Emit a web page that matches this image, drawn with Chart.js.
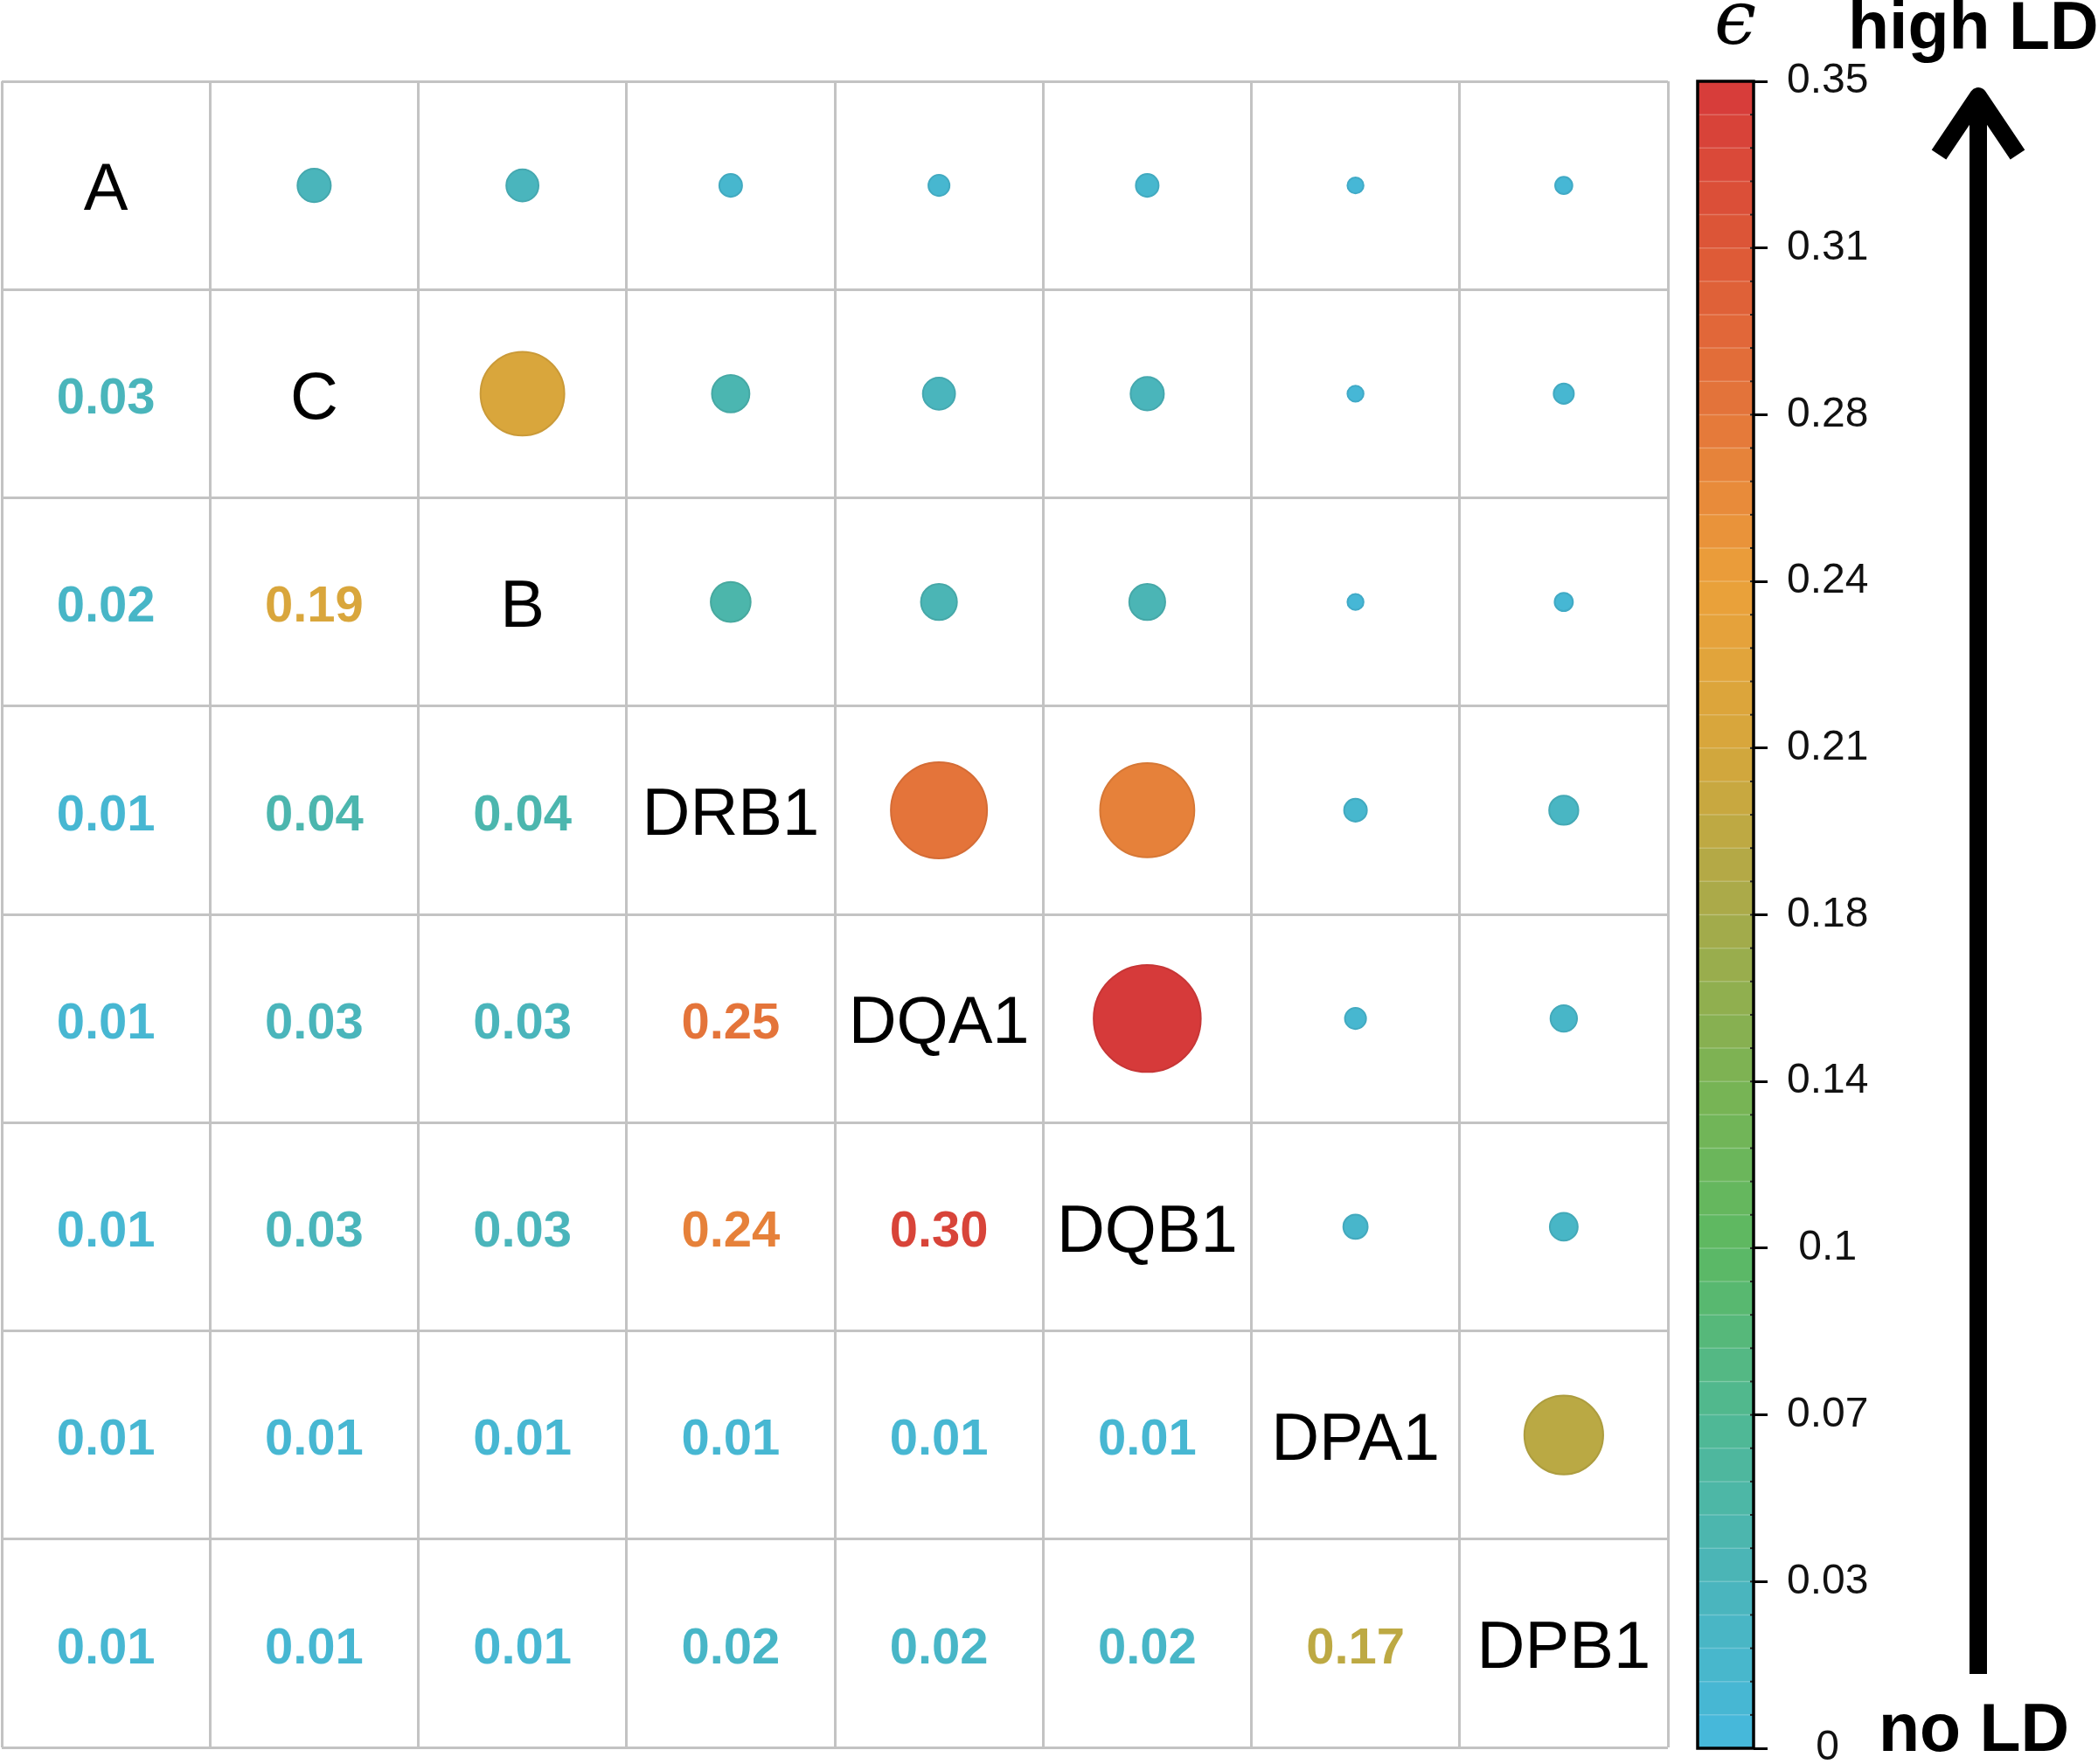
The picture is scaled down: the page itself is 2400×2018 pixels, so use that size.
<!DOCTYPE html>
<html><head><meta charset="utf-8">
<script src="https://cdn.jsdelivr.net/npm/chart.js@4.4.1/dist/chart.umd.min.js"></script>
<style>
html,body{margin:0;padding:0;background:#fff;}
body{width:2400px;height:2018px;position:relative;overflow:hidden;}
#matrix{position:absolute;left:0;top:0;}
#cbar{position:absolute;left:1925px;top:0;}
</style></head><body>
<canvas id="matrix" width="1925" height="2018"></canvas>
<canvas id="cbar" width="475" height="2018"></canvas>
<script>
// ---- data ----
const genes = ['A', 'C', 'B', 'DRB1', 'DQA1', 'DQB1', 'DPA1', 'DPB1'];
// printed epsilon values, lower triangle (row i, columns 0..i-1)
const ldLower = [
  [],
  [0.03],
  [0.02, 0.19],
  [0.01, 0.04, 0.04],
  [0.01, 0.03, 0.03, 0.25],
  [0.01, 0.03, 0.03, 0.24, 0.30],
  [0.01, 0.01, 0.01, 0.01, 0.01, 0.01],
  [0.01, 0.01, 0.01, 0.02, 0.02, 0.02, 0.17]
];
const ldUpper = [
  [0.030, 0.028, 0.014, 0.012, 0.014, 0.007, 0.008],
  [0.19, 0.038, 0.028, 0.030, 0.007, 0.011],
  [0.043, 0.035, 0.035, 0.007, 0.009],
  [0.25, 0.24, 0.014, 0.023],
  [0.31, 0.012, 0.019],
  [0.016, 0.021],
  [0.168],
  []
];
const cbTickValues = [0, 0.035, 0.07, 0.105, 0.14, 0.175, 0.21, 0.245, 0.28, 0.315, 0.35];
const cbTickLabels = ['0', '0.03', '0.07', '0.1', '0.14', '0.18', '0.21', '0.24', '0.28', '0.31', '0.35'];
const cbMin = 0, cbMax = 0.35, cbBands = 50;
const colorMax = 0.31;

// ---- colour map ----
const cmapStops = [
  [0.0, 69, 184, 222], [0.1, 74, 181, 186], [0.2, 80, 184, 146], [0.3, 92, 184, 98],
  [0.4, 122, 179, 84], [0.5, 166, 170, 74], [0.6, 214, 167, 60], [0.7, 235, 160, 58],
  [0.8, 228, 118, 58], [0.9, 221, 88, 55], [1.0, 214, 58, 58]
];
function cmapRGB(t) {
  t = Math.max(0, Math.min(1, t));
  for (let k = 1; k < cmapStops.length; k++) {
    const a = cmapStops[k - 1], b = cmapStops[k];
    if (t <= b[0]) {
      const f = (t - a[0]) / (b[0] - a[0]);
      return [1, 2, 3].map(c => Math.round(a[c] + (b[c] - a[c]) * f));
    }
  }
  return cmapStops[cmapStops.length - 1].slice(1);
}
const rgb = c => `rgb(${c[0]},${c[1]},${c[2]})`;
const colorFor = v => rgb(cmapRGB(v / colorMax));
const edgeFor = v => rgb(cmapRGB(v / colorMax).map(c => Math.round(c * 0.93)));

// ---- matrix chart ----
const dotPoints = [];
ldUpper.forEach((row, i) => row.forEach((v, k) => {
  dotPoints.push({ x: i + 1 + k + 0.5, y: i + 0.5, v: v });
}));

const FONT = '"Liberation Sans", Arial, Helvetica, sans-serif';
const NAME_PX = 76, NUM_PX = 58;
const cellText = {
  id: 'cellText',
  afterDatasetsDraw(chart) {
    const { ctx, scales: { x, y } } = chart;
    ctx.save();
    ctx.textAlign = 'center';
    ctx.textBaseline = 'alphabetic';
    ctx.font = NAME_PX + 'px ' + FONT;
    ctx.fillStyle = '#000';
    genes.forEach((g, i) => ctx.fillText(g, x.getPixelForValue(i + 0.5), y.getPixelForValue(i + 0.5) + 0.358 * NAME_PX + 1));
    ctx.font = 'bold ' + NUM_PX + 'px ' + FONT;
    ldLower.forEach((row, i) => row.forEach((v, j) => {
      ctx.fillStyle = colorFor(v);
      ctx.fillText(v.toFixed(2), x.getPixelForValue(j + 0.5), y.getPixelForValue(i + 0.5) + 0.358 * NUM_PX + 2);
    }));
    ctx.restore();
  }
};

const gridOpts = { color: '#c3c3c3', lineWidth: 3, drawTicks: false };
new Chart(document.getElementById('matrix'), {
  type: 'scatter',
  data: {
    datasets: [{
      data: dotPoints,
      pointRadius: c => c.raw ? 110 * Math.sqrt(c.raw.v) : 0,
      pointHoverRadius: c => c.raw ? 110 * Math.sqrt(c.raw.v) : 0,
      pointBackgroundColor: c => c.raw ? colorFor(c.raw.v) : '#000',
      pointBorderColor: c => c.raw ? edgeFor(c.raw.v) : '#000',
      pointBorderWidth: 2
    }]
  },
  options: {
    responsive: false, animation: false, devicePixelRatio: 1, events: [],
    layout: { autoPadding: false, padding: { left: 2, top: 93, right: 17, bottom: 19 } },
    plugins: { legend: { display: false }, tooltip: { enabled: false } },
    scales: {
      x: { type: 'linear', min: 0, max: 8, ticks: { display: false, stepSize: 1 }, grid: gridOpts,
           border: { display: false }, afterFit: s => { s.height = 0; } },
      y: { type: 'linear', min: 0, max: 8, reverse: true, ticks: { display: false, stepSize: 1 }, grid: gridOpts,
           border: { display: false }, afterFit: s => { s.width = 0; } }
    }
  },
  plugins: [cellText]
});

// ---- colour bar chart ----
const bandDatasets = [];
for (let b = 0; b < cbBands; b++) {
  const lo = cbMin + (cbMax - cbMin) * b / cbBands;
  const hi = cbMin + (cbMax - cbMin) * (b + 1) / cbBands;
  bandDatasets.push({
    data: [[lo, hi]],
    backgroundColor: rgb(cmapRGB(((lo + hi) / 2 - cbMin) / (cbMax - cbMin))),
    borderWidth: 0, borderSkipped: false, barPercentage: 1, categoryPercentage: 1
  });
}
const OX = 1925; // canvas offset in the page
const cbDecor = {
  id: 'cbDecor',
  afterDatasetsDraw(chart) {
    const { ctx, chartArea: a, scales: { y } } = chart;
    ctx.save();
    // faint band separators
    ctx.strokeStyle = 'rgba(255,255,255,0.22)';
    ctx.lineWidth = 1.5;
    for (let b = 1; b < cbBands; b++) {
      const py = y.getPixelForValue(cbMin + (cbMax - cbMin) * b / cbBands);
      ctx.beginPath(); ctx.moveTo(a.left, py); ctx.lineTo(a.right, py); ctx.stroke();
    }
    // minor ticks
    ctx.strokeStyle = '#222';
    ctx.lineWidth = 2;
    for (let b = 1; b < cbBands; b++) {
      const py = y.getPixelForValue(cbMin + (cbMax - cbMin) * b / cbBands);
      ctx.beginPath(); ctx.moveTo(a.right - 4, py); ctx.lineTo(a.right, py); ctx.stroke();
    }
    // frame
    ctx.strokeStyle = '#000';
    ctx.lineWidth = 3.5;
    ctx.strokeRect(a.left, a.top, a.right - a.left, a.bottom - a.top);
    ctx.restore();
  },
  afterDraw(chart) {
    const ctx = chart.ctx;
    ctx.save();
    ctx.fillStyle = '#000';
    ctx.strokeStyle = '#000';
    // arrow shaft
    ctx.fillRect(2253 - OX, 110, 20, 1915 - 110);
    // arrow head (chevron)
    ctx.lineWidth = 20;
    ctx.lineJoin = 'round';
    ctx.lineCap = 'butt';
    ctx.beginPath();
    ctx.moveTo(2218 - OX, 177);
    ctx.lineTo(2263 - OX, 110);
    ctx.lineTo(2308 - OX, 177);
    ctx.stroke();
    // texts
    ctx.textBaseline = 'alphabetic';
    ctx.textAlign = 'left';
    ctx.font = 'bold 77px ' + FONT;
    ctx.fillText('high LD', 2114 - OX, 56);
    ctx.fillText('no LD', 2149 - OX, 2003);
    ctx.textAlign = 'center';
    ctx.font = 'italic 86px "DejaVu Serif", "Liberation Serif", serif';
    ctx.fillText('\u03F5', 1985 - OX, 50);
    ctx.restore();
  }
};

new Chart(document.getElementById('cbar'), {
  type: 'bar',
  data: { labels: [''], datasets: bandDatasets },
  options: {
    responsive: false, animation: false, devicePixelRatio: 1, events: [],
    layout: { autoPadding: false, padding: { left: 17, top: 93, right: 0, bottom: 18 } },
    plugins: { legend: { display: false }, tooltip: { enabled: false } },
    scales: {
      x: { stacked: true, display: false },
      y: {
        position: 'right', min: cbMin, max: cbMax, stacked: false,
        afterBuildTicks: s => { s.ticks = cbTickValues.map(v => ({ value: v })); },
        afterFit: s => { s.width = 394; s.paddingTop = 0; s.paddingBottom = 0; },
        ticks: {
          callback: (v, i) => cbTickLabels[i],
          font: { size: 48, family: FONT }, color: '#111',
          crossAlign: 'center', padding: 22, autoSkip: false, maxRotation: 0
        },
        grid: { drawOnChartArea: false, drawTicks: true, tickLength: 16, tickWidth: 3, tickColor: '#000' },
        border: { display: false }
      }
    }
  },
  plugins: [cbDecor]
});
</script>
</body></html>
